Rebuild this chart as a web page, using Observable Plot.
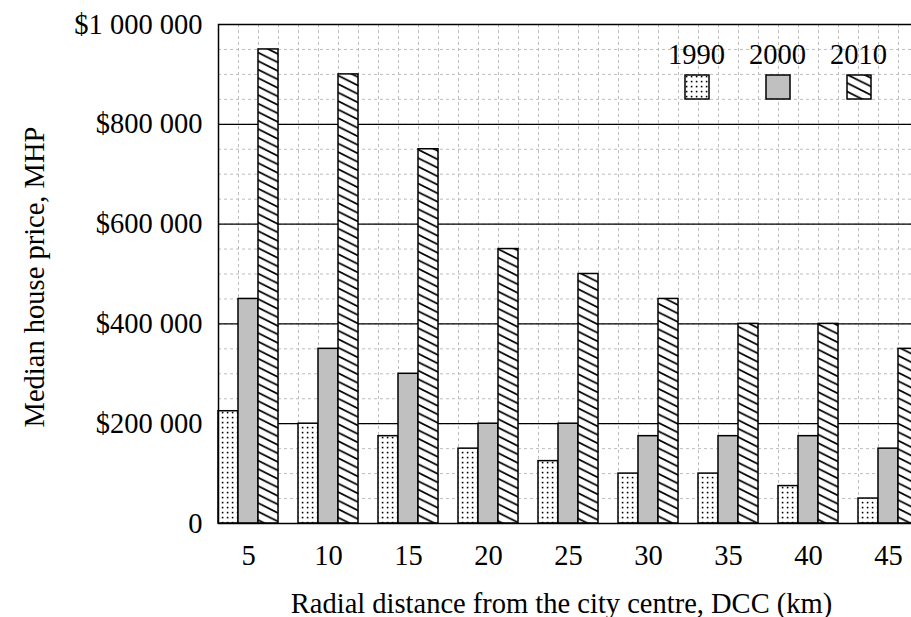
<!DOCTYPE html>
<html>
<head>
<meta charset="utf-8">
<script src="https://cdn.jsdelivr.net/npm/d3@7"></script>
<script src="https://cdn.jsdelivr.net/npm/@observablehq/plot@0.6"></script>
<style>
  html, body { margin: 0; padding: 0; background: #fff; overflow: hidden; width: 911px; height: 617px; }
  #wrap { position: relative; width: 911px; height: 617px; overflow: hidden; font-family: "Liberation Serif", serif; }
  #chart svg { max-width: none !important; display: block; }
  #legend { position: absolute; left: 656px; top: 40px; display: flex; }
  .item { width: 81px; display: flex; flex-direction: column; align-items: center; }
  .item span { font-size: 28.5px; line-height: 30px; color: #000; }
  .item svg { margin-top: 4px; }
</style>
</head>
<body>
<svg width="0" height="0" style="position:absolute">
  <defs>
    <pattern id="dots" patternUnits="userSpaceOnUse" width="5" height="5">
      <rect width="5" height="5" fill="#fff"/>
      <rect x="1.8" y="1.8" width="1.6" height="1.6" fill="#000"/>
    </pattern>
    <pattern id="hatch" patternUnits="userSpaceOnUse" width="17" height="8.5">
      <rect width="17" height="8.5" fill="#fff"/>
      <path d="M-2,-1 L19,9.5 M-2,-9.5 L19,1 M-2,7.5 L19,18" stroke="#000" stroke-width="1.8"/>
    </pattern>
  </defs>
</svg>
<div id="wrap">
  <div id="chart"></div>
  <div id="legend"></div>
</div>
<script>
const distances = [5, 10, 15, 20, 25, 30, 35, 40, 45];
const price1990 = [225000, 200000, 175000, 150000, 125000, 100000, 100000, 75000, 50000];
const price2000 = [450000, 350000, 300000, 200000, 200000, 175000, 175000, 175000, 150000];
const price2010 = [950000, 900000, 750000, 550000, 500000, 450000, 400000, 400000, 350000];
const years = ["1990", "2000", "2010"];
const yTicks = [0, 200000, 400000, 600000, 800000, 1000000];
const xLabel = "Radial distance from the city centre, DCC (km)";
const yLabel = "Median house price, MHP";

const fills = {"1990": "url(#dots)", "2000": "#c0c0c0", "2010": "url(#hatch)"};
const offsets = {"1990": -1.25, "2000": 0, "2010": 1.25};
const barW = 1.25;

const rows = [];
[price1990, price2000, price2010].forEach((arr, i) => {
  arr.forEach((v, j) => rows.push({year: years[i], dist: distances[j], price: v}));
});

const minorX = d3.range(4.375, 47.6, 1.25);
const minorY = d3.range(50000, 1000000, 50000);
const majorY = [200000, 400000, 600000, 800000];

const fmt = d => d === 0 ? "0" : "$" + d3.format(",")(d).replace(/,/g, " ");
const FS = 28.5;

const chart = Plot.plot({
  width: 940,
  height: 617,
  marginLeft: 218,
  marginRight: 10,
  marginTop: 24,
  marginBottom: 94,
  style: {fontFamily: "Liberation Serif, serif", fontSize: FS + "px", color: "#000", background: "transparent", maxWidth: "none"},
  x: {domain: [3.125, 47.625]},
  y: {domain: [0, 1000000]},
  marks: [
    Plot.ruleX(minorX, {stroke: "#bdbdbd", strokeDasharray: "3,3", strokeWidth: 1}),
    Plot.ruleY(minorY, {stroke: "#bdbdbd", strokeDasharray: "3,3", strokeWidth: 1}),
    Plot.ruleY(majorY, {stroke: "#000", strokeWidth: 1.3}),
    ...years.map(yr => Plot.rectY(rows.filter(r => r.year === yr), {
      x1: r => r.dist + offsets[yr] - barW / 2,
      x2: r => r.dist + offsets[yr] + barW / 2,
      y: "price",
      fill: fills[yr],
      stroke: "#000",
      strokeWidth: 1.5,
      inset: 0
    })),
    Plot.frame({stroke: "#000", strokeWidth: 1.5}),
    Plot.axisX(distances, {tickSize: 0, tickPadding: 21, tickFormat: d => String(d), label: null, fontSize: FS}),
    Plot.axisY(yTicks, {tickSize: 0, tickPadding: 16, tickFormat: fmt, label: null, fontSize: FS}),
    Plot.text([xLabel], {frameAnchor: "bottom", dx: -13, dy: 89, fontSize: FS, textAnchor: "middle"}),
    Plot.text([yLabel], {frameAnchor: "left", dx: -184, dy: 3, rotate: -90, fontSize: FS, textAnchor: "middle"})
  ]
});
document.getElementById("chart").appendChild(chart);

const legend = document.getElementById("legend");
years.forEach(yr => {
  const item = document.createElement("div");
  item.className = "item";
  item.innerHTML = `<span>${yr}</span><svg width="26" height="26"><rect x="1" y="1" width="24" height="24" fill="${fills[yr]}" stroke="#000" stroke-width="1.5"/></svg>`;
  legend.appendChild(item);
});
</script>
</body>
</html>
